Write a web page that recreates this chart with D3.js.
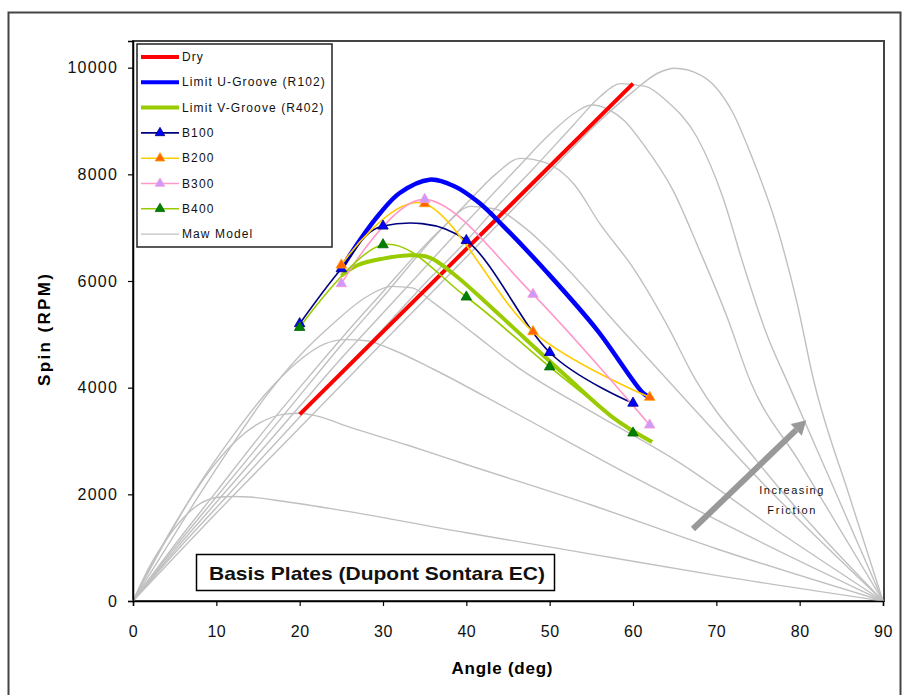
<!DOCTYPE html>
<html><head><meta charset="utf-8">
<script src="https://cdn.jsdelivr.net/npm/d3@7"></script>
<style>
body{margin:0;background:#fff;}
svg{display:block;font-family:Arial,"Liberation Sans",sans-serif;}
</style>
</head><body>
<svg id="c" width="908" height="695"></svg>
<script>
// ---------- data ----------
const xTicks = [0,10,20,30,40,50,60,70,80,90];
const yTicks = [0,2000,4000,6000,8000,10000];

const dry     = [[20,3500],[60,9700]];
const limitU  = [[25,6230],[27.2,6760],[29.6,7260],[32,7650],[35.6,7900],[38.5,7780],[41.5,7470],[44.5,7020],[49.7,6160],[55.7,5080],[61.2,3900],[62,3820]];
const limitV  = [[25,6100],[27,6300],[30,6420],[32.9,6480],[35.6,6440],[38.4,6140],[42,5650],[45.6,5130],[51.6,4270],[57.6,3440],[62.3,2980]];
const b100    = [[20,5200],[25,6230],[30,7030],[40,6760],[50,4660],[60,3710]];
const b200    = [[25,6300],[35,7450],[48,5050],[62,3820]];
const b300    = [[25,5950],[35,7530],[48,5750],[62,3300]];
const b400    = [[20,5130],[30,6680],[40,5700],[50,4390],[60,3150]];

const mawA = [[0,0],[2,650],[4,1150],[6,1550],[8,1820],[10,1940],[12,1960],[14,1950],[18,1870],[25,1700],[40,1280],[55,880],[70,480],[90,0]];
const mawB = [[0,0],[3,900],[6,1700],[9,2400],[12,2950],[15,3320],[18,3500],[20,3520],[22,3470],[26,3260],[33,2920],[40,2560],[55,1800],[70,980],[90,0]];
const mawC = [[0,0],[4,1150],[8,2200],[12,3100],[16,3900],[19.5,4450],[23,4820],[25.5,4900],[28,4880],[31,4720],[36,4350],[45,3600],[60,2330],[75,1130],[90,0]];
const mawD = [[0,0],[4,1000],[8,2000],[12,2950],[16,3850],[20,4600],[24,5200],[28,5700],[31,5900],[33.5,5870],[36,5600],[41,5000],[46,4400],[55,3550],[65,2650],[77,1350],[90,0]];
const mawE = [[0,0],[5,1050],[10,2050],[15,3050],[20,4000],[26,5100],[30,5800],[34,6500],[37.5,7050],[40.5,7400],[43.5,7350],[47,7000],[52,6250],[58,5200],[65,4000],[75,2300],[90,0]];
const mawF = [[0,0],[5,1000],[10,1950],[15,2900],[20,3850],[25,4800],[30,5700],[36,6800],[40,7450],[43.5,8000],[46.5,8300],[49.5,8220],[53,7800],[56,7080],[60,6250],[64,5200],[67.5,4150],[75,2600],[90,0]];
const mawG = [[0,0],[5,950],[10,1850],[15,2750],[20,3650],[25,4550],[30,5400],[35,6250],[40,7100],[46,8100],[50,8750],[53,9150],[55,9300],[57,9220],[59,9000],[61.2,8570],[64.8,7700],[68,6570],[71.3,5320],[74,4150],[80,2600],[90,0]];
const mawH = [[0,0],[5,900],[10,1750],[15,2600],[20,3450],[25,4300],[30,5100],[35,5950],[40,6750],[44,7450],[48,8100],[53,8950],[56,9450],[58.5,9700],[61.5,9650],[64,9380],[67.7,8690],[70.8,7560],[73.2,6330],[76,5020],[78.8,4010],[84,2150],[90,0]];
const mawI = [[0,0],[5,830],[10,1650],[15,2450],[20,3250],[25,4050],[30,4850],[35,5650],[40,6450],[45,7250],[50,8050],[56,9000],[60,9550],[63,9900],[65,9990],[68,9870],[70,9620],[72,9150],[74,8430],[77.3,7000],[79.7,5580],[81.6,4190],[86,1950],[90,0]];
const mawCurves = [mawA,mawB,mawC,mawD,mawE,mawF,mawG,mawH,mawI];

const legendLabels = ["Dry","Limit U-Groove (R102)","Limit V-Groove (R402)","B100","B200","B300","B400","Maw Model"];
const title = "Basis Plates (Dupont Sontara EC)";
const arrowFrom = [67.2,1350], arrowTo = [80.8,3390];
const noteLines = ["Increasing","Friction"];
const notePos = [[79,2000],[79,1630]];

// ---------- layout ----------
const svg = d3.select("#c");
const X0=133, X1=884, Y0=601, Y1=41;
const x = d3.scaleLinear().domain([0,90]).range([X0,X1-1]);
const y = d3.scaleLinear().domain([0,10500]).range([Y0,Y1]);

svg.append("rect").attr("x",8.5).attr("y",12.5).attr("width",892).attr("height",700)
  .attr("fill","#fff").attr("stroke","#444").attr("stroke-width",2);
svg.append("rect").attr("x",X0).attr("y",Y1).attr("width",X1-X0).attr("height",Y0-Y1)
  .attr("fill","#fff").attr("stroke","#444").attr("stroke-width",2);

const smooth = d3.line().x(d=>x(d[0])).y(d=>y(d[1])).curve(d3.curveCatmullRom.alpha(0.5));
const mono = d3.line().x(d=>x(d[0])).y(d=>y(d[1])).curve(d3.curveMonotoneX);
const straight = d3.line().x(d=>x(d[0])).y(d=>y(d[1]));

svg.append("g").selectAll("path").data(mawCurves).join("path")
  .attr("d",mono).attr("fill","none").attr("stroke","#c0c0c0").attr("stroke-width",1.4);

svg.append("path").attr("d",straight(dry)).attr("fill","none").attr("stroke","#ff0000").attr("stroke-width",4);
svg.append("path").attr("d",smooth(limitU)).attr("fill","none").attr("stroke","#0000ff").attr("stroke-width",4.5);
svg.append("path").attr("d",smooth(limitV)).attr("fill","none").attr("stroke","#99cc00").attr("stroke-width",4);

const series = [
  {data:b100, line:"#000080", fill:"#0000ff", stroke:"#000080"},
  {data:b200, line:"#ffcc00", fill:"#ff6600", stroke:"#ff9900"},
  {data:b300, line:"#ff99cc", fill:"#cc99ff", stroke:"#ff99cc"},
  {data:b400, line:"#99cc00", fill:"#008000", stroke:"#006600"}
];
const tri = d3.symbol().type(d3.symbolTriangle).size(48);
const excel = d3.line().x(d=>x(d[0])).y(d=>y(d[1])).curve(d3.curveCardinal.tension(0));
series.forEach(s=>{
  svg.append("path").attr("d",excel(s.data)).attr("fill","none").attr("stroke",s.line).attr("stroke-width",1.6);
});
series.forEach(s=>{
  svg.append("g").selectAll("path").data(s.data).join("path")
    .attr("d",tri).attr("transform",d=>`translate(${x(d[0])},${y(d[1])})`)
    .attr("fill",s.fill).attr("stroke",s.stroke).attr("stroke-width",0.8);
});

const gx = svg.append("g").attr("transform",`translate(0,${Y0})`)
  .call(d3.axisBottom(x).tickValues(xTicks).tickSize(5).tickPadding(20).tickFormat(d3.format("d")));
const gy = svg.append("g").attr("transform",`translate(${X0},0)`)
  .call(d3.axisLeft(y).tickValues(yTicks).tickSize(5).tickPadding(10).tickFormat(d3.format("d")));
[gx,gy].forEach(g=>{
  g.select(".domain").attr("stroke","#000").attr("stroke-width",1.5);
  g.selectAll(".tick line").attr("stroke","#000").attr("stroke-width",1.2);
  g.selectAll("text").attr("font-size",16).attr("fill","#111").attr("font-family","Arial,'Liberation Sans',sans-serif");
});
gy.selectAll("text").attr("letter-spacing","1.2px");
gx.selectAll("text").attr("letter-spacing","0.5px");

svg.append("text").attr("x",502).attr("y",674).attr("text-anchor","middle")
  .attr("font-size",17).attr("font-weight","bold").attr("textLength",101).attr("lengthAdjust","spacing").text("Angle (deg)");
svg.append("text").attr("transform","translate(50,330) rotate(-90)").attr("text-anchor","middle")
  .attr("font-size",17).attr("font-weight","bold").attr("textLength",112).attr("lengthAdjust","spacing").text("Spin (RPM)");

svg.append("rect").attr("x",196.5).attr("y",554.5).attr("width",358).attr("height",36)
  .attr("fill","#fff").attr("stroke","#000").attr("stroke-width",1.5);
svg.append("text").attr("x",209).attr("y",580).attr("font-size",19).attr("font-weight","bold")
  .attr("fill","#111").attr("textLength",336).attr("lengthAdjust","spacingAndGlyphs").text(title);

const ax0=x(arrowFrom[0]), ay0=y(arrowFrom[1]), ax1=x(arrowTo[0]), ay1=y(arrowTo[1]);
const ang = Math.atan2(ay1-ay0, ax1-ax0);
const hl=14, hw=8;
const bx = ax1 - hl*Math.cos(ang), by = ay1 - hl*Math.sin(ang);
svg.append("line").attr("x1",ax0).attr("y1",ay0).attr("x2",bx).attr("y2",by)
  .attr("stroke","#999").attr("stroke-width",6);
svg.append("polygon").attr("fill","#999").attr("points",[
  [ax1,ay1],
  [bx + hw*Math.sin(ang), by - hw*Math.cos(ang)],
  [bx - hw*Math.sin(ang), by + hw*Math.cos(ang)]
].map(p=>p.join(",")).join(" "));
noteLines.forEach((t,i)=>{
  svg.append("text").attr("x",x(notePos[i][0])).attr("y",y(notePos[i][1])).attr("text-anchor","middle")
    .attr("font-size",11).attr("fill","#111").attr("textLength",i?48:64).attr("lengthAdjust","spacing").text(t);
});

const lg = svg.append("g");
lg.append("rect").attr("x",137).attr("y",44).attr("width",195).attr("height",203)
  .attr("fill","#fff").attr("stroke","#222").attr("stroke-width",1.5);
const rowY = i => 57 + i*25.3;
const legStyles = [
  {c:"#ff0000",w:4},{c:"#0000ff",w:4},{c:"#99cc00",w:4},
  {c:"#000080",w:1.6,m:series[0]},{c:"#ffcc00",w:1.6,m:series[1]},{c:"#ff99cc",w:1.6,m:series[2]},{c:"#99cc00",w:1.6,m:series[3]},
  {c:"#c0c0c0",w:1.4}
];
const legTri = d3.symbol().type(d3.symbolTriangle).size(40);
legendLabels.forEach((lab,i)=>{
  const st = legStyles[i], yy=rowY(i);
  lg.append("line").attr("x1",141).attr("x2",179).attr("y1",yy).attr("y2",yy).attr("stroke",st.c).attr("stroke-width",st.w);
  if(st.m) lg.append("path").attr("d",legTri).attr("transform",`translate(160,${yy})`)
    .attr("fill",st.m.fill).attr("stroke",st.m.stroke).attr("stroke-width",0.8);
  lg.append("text").attr("x",182).attr("y",yy+4).attr("font-size",12).attr("fill","#111")
    .attr("letter-spacing","1.1px").text(lab);
});
</script>
</body></html>
